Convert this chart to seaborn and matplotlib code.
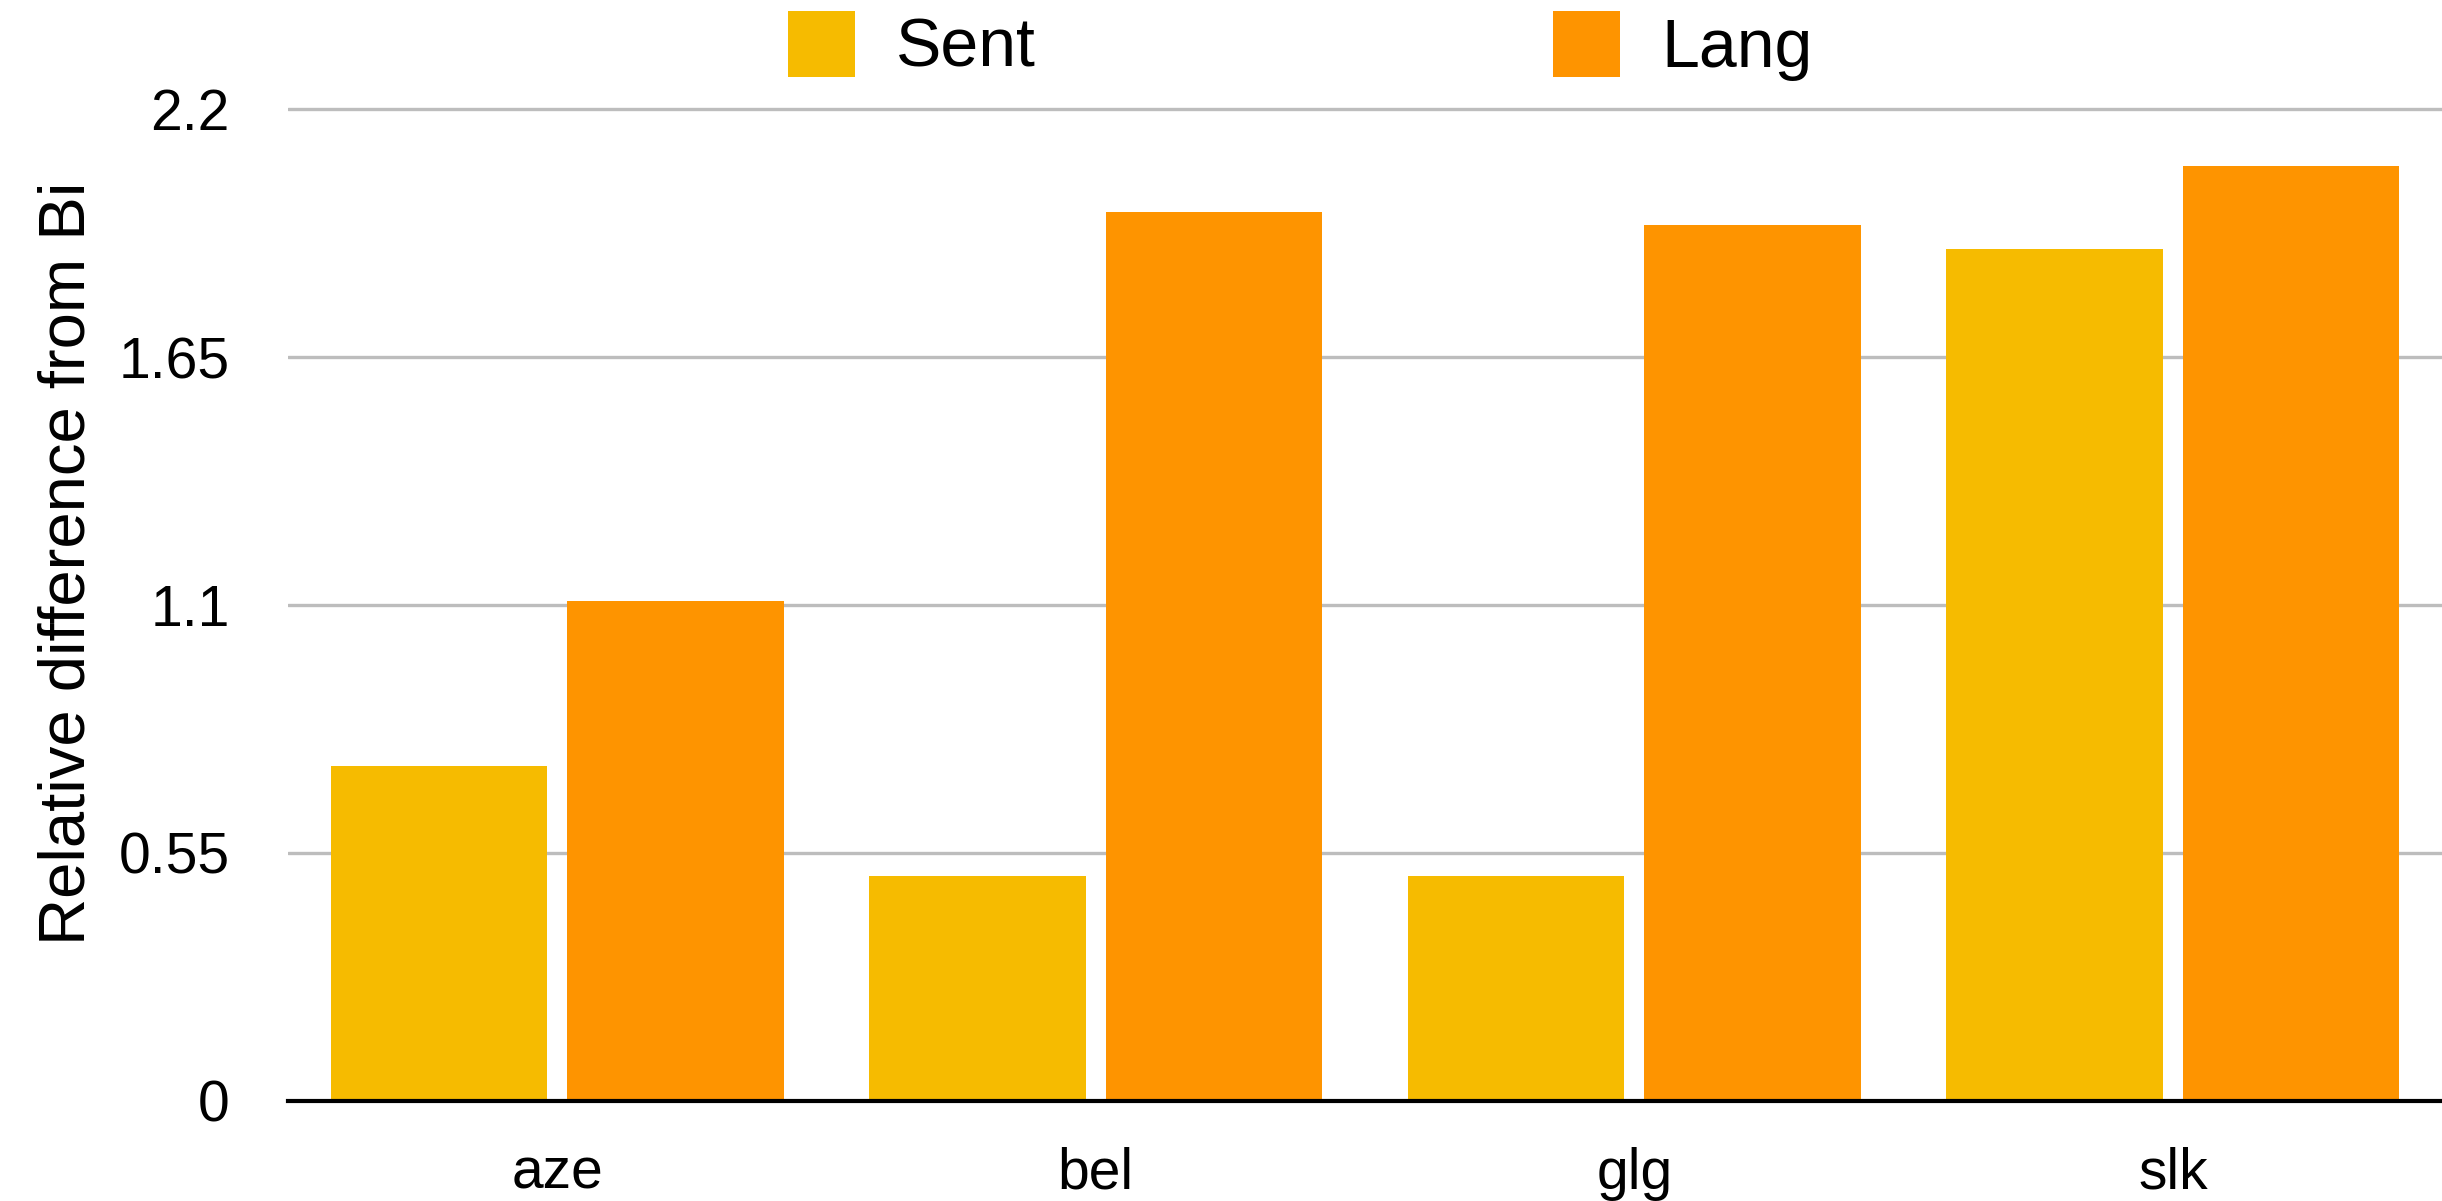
import matplotlib
matplotlib.use("Agg")
import matplotlib.pyplot as plt
import seaborn as sns
import pandas as pd
from matplotlib.patches import Patch

categories = ["aze", "bel", "glg", "slk"]
series_names = ["Sent", "Lang"]
sent_values = [0.743, 0.50, 0.50, 1.890]
lang_values = [1.108, 1.972, 1.943, 2.074]
y_ticks = [0, 0.55, 1.1, 1.65, 2.2]
y_tick_labels = ["0", "0.55", "1.1", "1.65", "2.2"]
colors = {"Sent": "#F6BB00", "Lang": "#FE9400"}

df = pd.DataFrame({
    "cat": categories * 2,
    "series": ["Sent"] * 4 + ["Lang"] * 4,
    "value": sent_values + lang_values,
})

sns.set_theme(style="white")
plt.rcParams["font.family"] = ["Liberation Sans", "DejaVu Sans"]
plt.rcParams["text.color"] = "black"
plt.rcParams["legend.labelcolor"] = "black"

fig = plt.figure(figsize=(24.42, 12.01), dpi=100)
ax = fig.add_axes([0.118, 0.0833, 0.882, 0.9167 - 0.0833])

sns.barplot(data=df, x="cat", y="value", hue="series", hue_order=series_names,
            palette=colors, width=0.878, gap=0.084, saturation=1,
            ax=ax, legend=False, linewidth=0, zorder=3)

ax.set_xlim(-0.5, 3.5)
ax.set_ylim(0, 2.22)
ax.set_yticks(y_ticks)
ax.set_yticklabels(y_tick_labels)
ax.yaxis.grid(True, color="#BDBDBD", linewidth=2.4, zorder=0)
ax.set_axisbelow(True)
for s in ["left", "right", "top"]:
    ax.spines[s].set_visible(False)
ax.spines["bottom"].set_color("black")
ax.spines["bottom"].set_linewidth(3)
ax.spines["bottom"].set_zorder(5)
ax.tick_params(axis="y", length=0, pad=42, labelsize=41, colors="black")
ax.tick_params(axis="x", length=0, pad=33, labelsize=41, colors="black")
ax.set_xlabel("")
ax.set_ylabel("Relative difference from Bi", fontsize=47, color="black")
ax.yaxis.set_label_coords(-0.0885, 0.537)

handles = [Patch(facecolor=colors[n], edgecolor="none") for n in series_names]
fig.legend(handles, series_names, loc="center", bbox_to_anchor=(0.5326, 0.962),
           ncol=2, frameon=False, fontsize=49, handlelength=0.98, handleheight=1.12,
           handletextpad=0.61, columnspacing=7.6, borderpad=0, borderaxespad=0,
           labelcolor="black")

fig.savefig("out.png", dpi=100, facecolor="white")
